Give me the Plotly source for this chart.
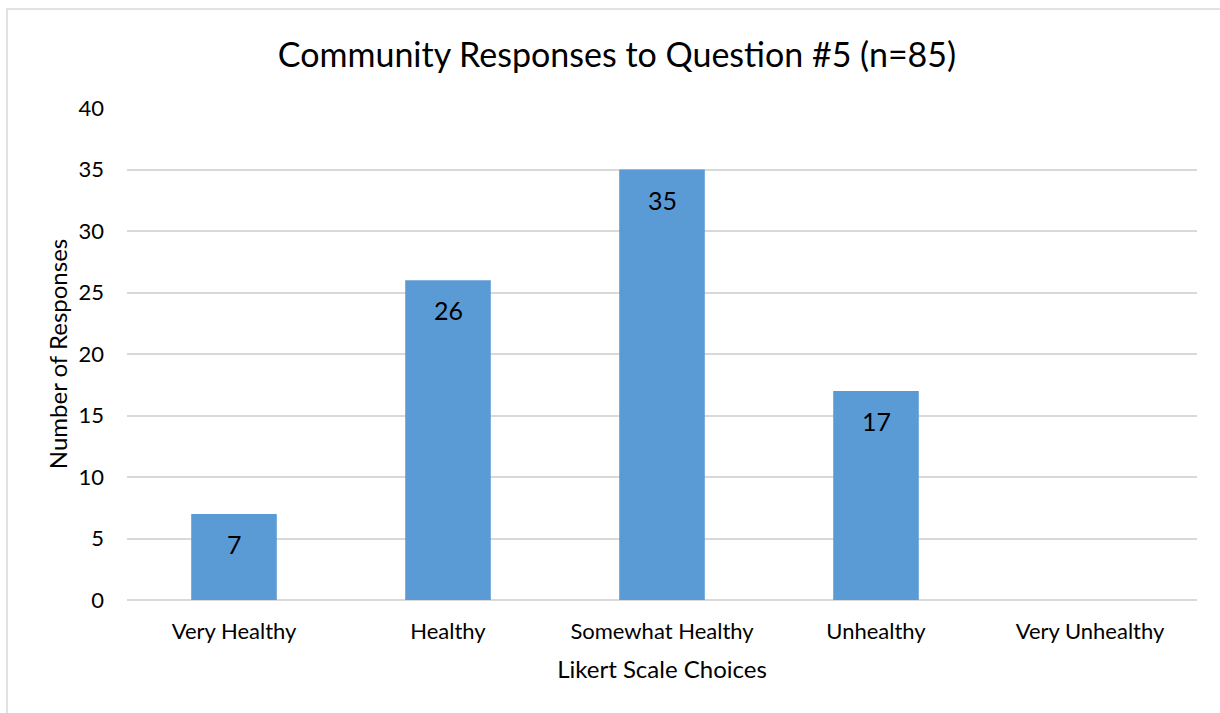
import plotly.graph_objects as go

categories = ["Very Healthy", "Healthy", "Somewhat Healthy", "Unhealthy", "Very Unhealthy"]
responses = [7, 26, 35, 17, 0]
y_ticks = [0, 5, 10, 15, 20, 25, 30, 35, 40]

FONT = "Lato"
W, H = 1220, 713
L, R, T, B = 127, 23, 108, 113
pw, ph = W - L - R, H - T - B

fig = go.Figure(go.Bar(
    x=categories, y=responses,
    marker=dict(color="#5b9bd5", line=dict(width=0)),
    width=0.4,
    hoverinfo="x+y",
))

for c, v in zip(categories, responses):
    if v:
        fig.add_annotation(x=c, y=v, text=str(v), showarrow=False,
                           yanchor="middle", yshift=-30,
                           font=dict(family=FONT, size=25, color="#000000"))

fig.update_layout(
    width=W, height=H,
    margin=dict(l=L, r=R, t=T, b=B),
    paper_bgcolor="white", plot_bgcolor="white",
    font=dict(family=FONT, color="#000000"),
    title=dict(text="Community Responses to Question #5 (n=85)",
               x=617 / W, xref="container", xanchor="center",
               y=1 - 55 / H, yanchor="middle",
               font=dict(family=FONT, size=34, color="#000000")),
    showlegend=False,
)
fig.update_xaxes(
    showgrid=False, showline=False, ticks="", zeroline=False,
    tickfont=dict(family=FONT, size=22, color="#000000"),
    ticklabelstandoff=16,
    title=dict(text="Likert Scale Choices", font=dict(family=FONT, size=24, color="#000000"), standoff=18),
)
fig.update_yaxes(
    range=[0, 40], tickvals=y_ticks, showgrid=True, gridcolor="#d9d9d9", gridwidth=1.5,
    zeroline=True, zerolinecolor="#d9d9d9", zerolinewidth=1.5,
    showline=False, ticks="", ticklen=0,
    tickfont=dict(family=FONT, size=22, color="#000000"),
    ticklabelstandoff=22,
    title=dict(text="Number of Responses", font=dict(family=FONT, size=24, color="#000000"), standoff=4),
)
# chart border
fig.add_shape(type="rect", xref="paper", yref="paper",
              x0=(7 - L) / pw, x1=(W + 5 - L) / pw,
              y0=-(B + 5) / ph, y1=(H - 9 - B) / ph,
              line=dict(color="#d9d9d9", width=1.5), fillcolor="rgba(0,0,0,0)", layer="below")

fig.write_html("out.html")
